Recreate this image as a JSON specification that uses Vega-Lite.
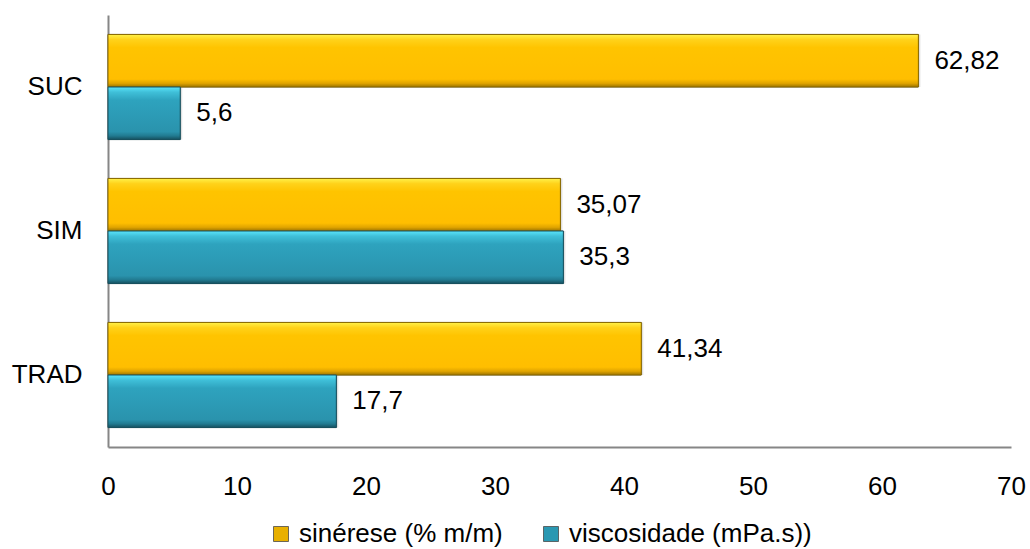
{
  "$schema": "https://vega.github.io/schema/vega-lite/v6.json",
  "width": 903,
  "height": 432,
  "autosize": {"type": "none"},
  "padding": {"left": 108, "top": 15, "right": 19, "bottom": 102},
  "background": "white",
  "config": {
    "view": {"stroke": null},
    "font": "Liberation Sans",
    "locale": {"number": {"decimal": ",", "thousands": ".", "grouping": [3], "currency": ["", ""]}}
  },
  "data": {
    "values": [
      {"amostra": "SUC", "serie": "sinérese (% m/m)", "valor": 62.82},
      {"amostra": "SUC", "serie": "viscosidade (mPa.s))", "valor": 5.6},
      {"amostra": "SIM", "serie": "sinérese (% m/m)", "valor": 35.07},
      {"amostra": "SIM", "serie": "viscosidade (mPa.s))", "valor": 35.3},
      {"amostra": "TRAD", "serie": "sinérese (% m/m)", "valor": 41.34},
      {"amostra": "TRAD", "serie": "viscosidade (mPa.s))", "valor": 17.7}
    ]
  },
  "encoding": {
    "y": {
      "field": "amostra",
      "type": "nominal",
      "sort": ["SUC", "SIM", "TRAD"],
      "scale": {"paddingInner": 0.27, "paddingOuter": 0.135},
      "axis": {
        "title": null,
        "domain": true,
        "domainColor": "#868686",
        "domainWidth": 2,
        "ticks": false,
        "labelFontSize": 26,
        "labelColor": "#000000",
        "labelPadding": 26
      }
    },
    "x": {
      "field": "valor",
      "type": "quantitative",
      "scale": {"domain": [0, 70], "nice": false},
      "axis": {
        "title": null,
        "values": [0, 10, 20, 30, 40, 50, 60, 70],
        "grid": false,
        "domain": true,
        "domainColor": "#868686",
        "domainWidth": 2,
        "ticks": false,
        "labelFontSize": 26,
        "labelColor": "#000000",
        "labelPadding": 26,
        "labelFlush": false
      }
    },
    "yOffset": {"field": "serie", "type": "nominal", "sort": ["sinérese (% m/m)", "viscosidade (mPa.s))"], "scale": {"paddingInner": 0, "paddingOuter": 0}}
  },
  "layer": [
    {
      "mark": {"type": "bar", "color": "#000000", "opacity": 0.12, "xOffset": 2, "yOffset": 4},
      "encoding": {}
    },
    {
      "mark": {"type": "bar", "stroke": "#555555", "strokeWidth": 0.8},
      "encoding": {
        "color": {
          "field": "serie",
          "type": "nominal",
          "sort": ["sinérese (% m/m)", "viscosidade (mPa.s))"],
          "scale": {
            "domain": ["sinérese (% m/m)", "viscosidade (mPa.s))"],
            "range": ["#e8b000", "#2a98b2"]
          },
          "legend": {
            "title": null,
            "orient": "none",
            "legendX": 160,
            "legendY": 506,
            "direction": "horizontal",
            "symbolType": "square",
            "symbolSize": 225,
            "symbolStrokeWidth": 0.8,
            "symbolStrokeColor": "#4a4a4a",
            "labelFontSize": 26,
            "labelColor": "#000000",
            "labelOffset": 5,
            "columnPadding": 35,
            "labelLimit": 400
          }
        }
      }
    },
    {
      "mark": {"type": "bar", "strokeWidth": 1},
      "encoding": {
        "fill": {
          "condition": {
            "test": "datum.serie === 'sinérese (% m/m)'",
            "value": {"gradient": "linear", "x1": 0, "y1": 0, "x2": 0, "y2": 1, "stops": [
              {"offset": 0, "color": "#fff24a"},
              {"offset": 0.1, "color": "#ffd21a"},
              {"offset": 0.25, "color": "#ffc400"},
              {"offset": 0.85, "color": "#ffbe00"},
              {"offset": 0.93, "color": "#e0a400"},
              {"offset": 1, "color": "#9c7400"}
            ]}
          },
          "value": {"gradient": "linear", "x1": 0, "y1": 0, "x2": 0, "y2": 1, "stops": [
            {"offset": 0, "color": "#5ae4fb"},
            {"offset": 0.1, "color": "#3fbfd8"},
            {"offset": 0.25, "color": "#2ea3be"},
            {"offset": 0.85, "color": "#2a93ad"},
            {"offset": 0.93, "color": "#217a90"},
            {"offset": 1, "color": "#154f5e"}
          ]}
        },
        "stroke": {
          "condition": {"test": "datum.serie === 'sinérese (% m/m)'", "value": "#8a6a00"},
          "value": "#17505e"
        }
      }
    },
    {
      "mark": {"type": "text", "align": "left", "baseline": "middle", "dx": 16, "fontSize": 26, "color": "#000000"},
      "encoding": {
        "text": {"field": "valor", "type": "quantitative", "format": ".4~g"}
      }
    }
  ]
}
